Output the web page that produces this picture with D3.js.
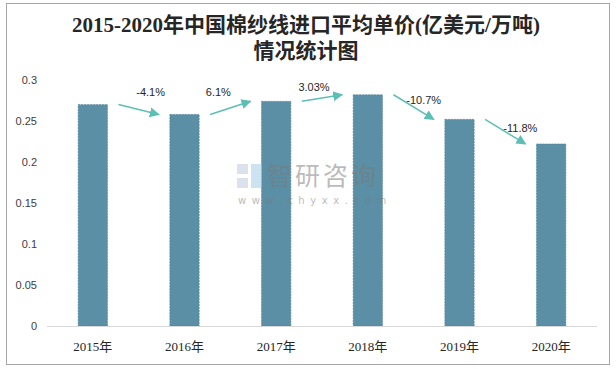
<!DOCTYPE html>
<html><head><meta charset="utf-8">
<script src="https://cdn.jsdelivr.net/npm/d3@7"></script>
<style>body{margin:0;background:#fff}svg{display:block}</style>
</head><body>
<svg id="c" width="616" height="369"></svg>
<script>
const categories = ["2015年","2016年","2017年","2018年","2019年","2020年"];
const values = [0.27, 0.258, 0.274, 0.282, 0.252, 0.222];
const changes = ["-4.1%","6.1%","3.03%","-10.7%","-11.8%"];
const yTicks = [0,0.05,0.1,0.15,0.2,0.25,0.3];
const titleLines = ["2015-2020年中国棉纱线进口平均单价(亿美元/万吨)","情况统计图"];

const svg = d3.select("#c");
svg.append("rect").attr("x",6.5).attr("y",3.5).attr("width",603).attr("height",361)
  .attr("fill","#fff").attr("stroke","#a6a6a6").attr("stroke-width",1);

const titleFont = "'Liberation Serif','Noto Sans CJK SC',serif";
titleLines.forEach((t,i)=>{
  svg.append("text").attr("x",306).attr("y",32+i*26).attr("text-anchor","middle")
    .attr("font-family",titleFont).attr("font-size",21).attr("font-weight","600").attr("fill","#262626").text(t);
});

const x = d3.scaleBand().domain(categories).range([47,597]).paddingInner(0.68).paddingOuter(0.34);
const y = d3.scaleLinear().domain([0,0.3]).range([326,80]);

// bars
svg.append("g").selectAll("rect").data(values).join("rect")
  .attr("x",(d,i)=>x(categories[i])).attr("y",d=>y(d))
  .attr("width",x.bandwidth()).attr("height",d=>y(0)-y(d))
  .attr("fill","#5b8fa6").attr("stroke","#4d7f96").attr("stroke-width",0.6).attr("stroke-dasharray","2,1");

// watermark
const wm = svg.append("g").attr("opacity",0.5);
wm.append("rect").attr("x",237).attr("y",164).attr("width",11).attr("height",10).attr("fill","#b8c6dc");
wm.append("rect").attr("x",237).attr("y",178).attr("width",11).attr("height",10).attr("fill","#b8c6dc");
wm.append("rect").attr("x",251).attr("y",164).attr("width",11).attr("height",24).attr("fill","#9fc9e6");
wm.append("text").attr("x",267).attr("y",185).attr("font-family","'Noto Sans CJK SC',sans-serif")
  .attr("font-size",25).attr("fill","#7a7a7a").attr("letter-spacing",3).text("智研咨询");
wm.append("text").attr("x",238).attr("y",204).attr("font-family","'DejaVu Sans',sans-serif")
  .attr("font-size",10).attr("fill","#7a7a7a").attr("letter-spacing",5.6).text("www.chyxx.com");

// baseline
svg.append("line").attr("x1",47).attr("x2",597).attr("y1",326.5).attr("y2",326.5).attr("stroke","#d9d9d9");

// y axis
const yAxis = d3.axisLeft(y).tickValues(yTicks).tickSize(0).tickPadding(0).tickFormat(d=>d3.format("")(d));
const yg = svg.append("g").attr("transform","translate(37,0)").call(yAxis);
yg.select(".domain").remove();
yg.selectAll("text").attr("font-family","'Liberation Sans','DejaVu Sans',sans-serif").attr("font-size",11).attr("fill","#404040");

// x axis
const xAxis = d3.axisBottom(x).tickSize(0).tickPadding(0);
const xg = svg.append("g").attr("transform","translate(0,342)").call(xAxis);
xg.select(".domain").remove();
xg.selectAll("text").attr("font-family","'Liberation Serif','Noto Sans CJK SC',serif").attr("font-size",13).attr("fill","#262626");

// arrows
const defs = svg.append("defs");
defs.append("marker").attr("id","ah").attr("viewBox","0 0 10 10").attr("refX",9).attr("refY",5)
  .attr("markerWidth",10).attr("markerHeight",10).attr("markerUnits","userSpaceOnUse").attr("orient","auto")
  .append("path").attr("d","M0,0 L10,5 L0,10 Z").attr("fill","#5bbfb5");
const labelOff = [[12,-9],[-12,-5],[-8,-4],[10,9],[15,13]];
changes.forEach((c,i)=>{
  const x0 = x(categories[i]) + x.bandwidth() + 11, y0 = y(values[i]);
  const x1 = x(categories[i+1]) - 11, y1 = y(values[i+1]);
  svg.append("line").attr("x1",x0).attr("y1",y0).attr("x2",x1).attr("y2",y1)
    .attr("stroke","#5bbfb5").attr("stroke-width",1.5).attr("marker-end","url(#ah)");
  svg.append("text").attr("x",(x0+x1)/2+labelOff[i][0]).attr("y",Math.min(y0,y1)+labelOff[i][1])
    .attr("text-anchor","middle").attr("font-family","'Liberation Sans','DejaVu Sans',sans-serif")
    .attr("font-size",11).attr("fill","#262626").text(c);
});
</script>
</body></html>
